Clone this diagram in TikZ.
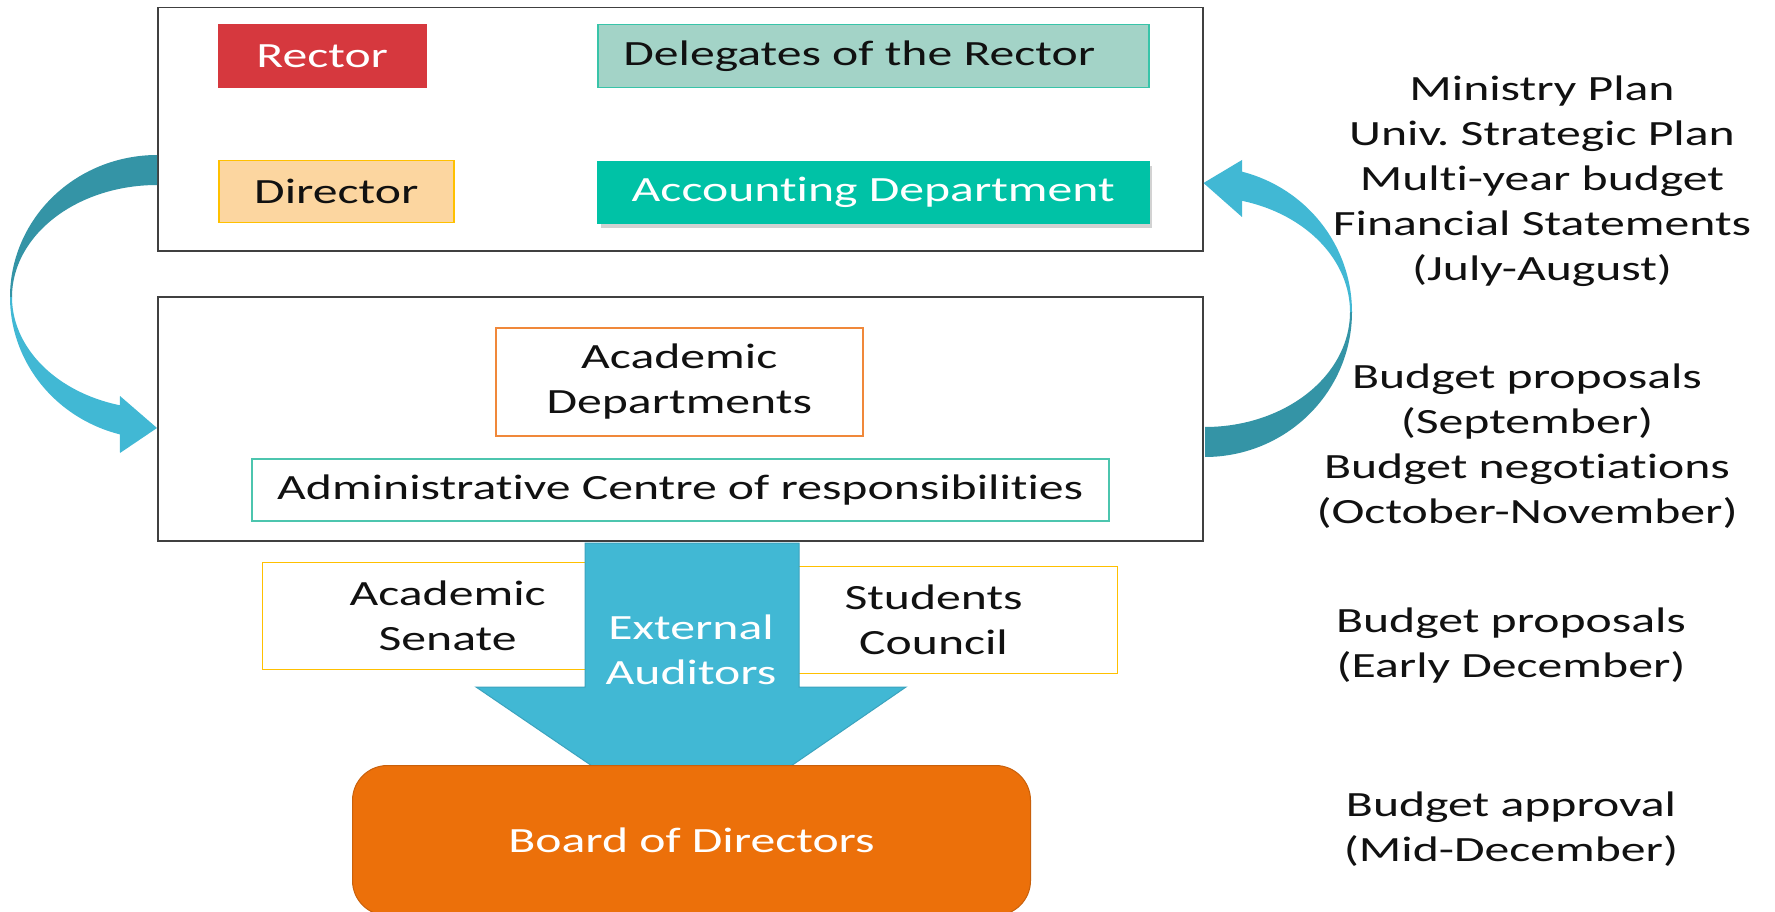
\documentclass[tikz,border=0pt]{standalone}
\usepackage{fontspec}
\setmainfont{Carlito}[FakeStretch=1.40, Ligatures=NoCommon]
\usetikzlibrary{shadows}
\definecolor{rectorred}{RGB}{214,56,62}
\definecolor{delefill}{RGB}{163,211,199}
\definecolor{deleline}{RGB}{56,196,169}
\definecolor{dirfill}{RGB}{252,214,160}
\definecolor{gold}{RGB}{255,192,0}
\definecolor{accfill}{RGB}{0,194,166}
\definecolor{deptline}{RGB}{240,136,58}
\definecolor{adminline}{RGB}{76,197,174}
\definecolor{arrowlight}{RGB}{65,184,212}
\definecolor{arrowdark}{RGB}{52,148,166}
\definecolor{arrowedge}{RGB}{59,163,190}
\definecolor{boardfill}{RGB}{236,112,10}
\definecolor{boardline}{RGB}{201,96,10}
\definecolor{frameline}{RGB}{64,64,64}
\definecolor{textblack}{RGB}{17,17,17}
\newcommand\diagfs{\fontsize{35.5}{45}\selectfont}
\frenchspacing
\begin{document}
\frenchspacing
\begin{tikzpicture}[x=1pt,y=-1pt,
  outerbox/.style={draw=frameline, line width=1.5pt, anchor=north west, inner sep=0pt},
  bx/.style={line width=1.5pt, anchor=north west, inner sep=0pt, font=\diagfs, align=center, text=textblack},
  txt/.style={font=\diagfs, align=center, inner sep=0pt, text=textblack}]
\useasboundingbox (0,0) rectangle (1775,912);
\fill[white] (0,0) rectangle (1775,912);

% frames
\node[outerbox, minimum width=1045pt, minimum height=243pt] (topbox) at (157,7) {};
\node[outerbox, minimum width=1045pt, minimum height=244pt] (midbox) at (157,296) {};

% top frame boxes
\node[bx, fill=rectorred, draw=rectorred, text=white, minimum width=207pt, minimum height=63pt] (rector) at (218,24) {Rector};
\node[bx, fill=delefill, draw=deleline, minimum width=551pt, minimum height=63pt] (dele) at (597,24) {Delegates of the Rector\kern28pt};
\node[bx, fill=dirfill, draw=gold, minimum width=235pt, minimum height=62pt] (director) at (218,160) {Director};
\node[bx, fill=accfill, draw=accfill, text=white, minimum width=551pt, minimum height=62pt,
  drop shadow={shadow xshift=3pt, shadow yshift=-4pt, opacity=0.35}] (acc) at (597,161) {Accounting Department};

% middle frame boxes
\node[bx, draw=deptline, minimum width=367pt, minimum height=108pt] (dept) at (495,327) {Academic\\Departments};
\node[bx, draw=adminline, minimum width=857pt, minimum height=62pt] (admin) at (251,458) {Administrative Centre of responsibilities};

% left curved arrow (top frame -> middle frame)
\fill[arrowdark] plot[domain=-90:-180, samples=60] ({157+147*cos(\x)},{297+142*sin(\x)})
  -- plot[domain=-180:-90, samples=60] ({157+145*cos(\x)},{297+112*sin(\x)}) -- cycle;
\fill[arrowlight] plot[domain=180:104.6, samples=60] ({157+147*cos(\x)},{297+142*sin(\x)})
  -- (120,453) -- (midbox.west |- 0,428) -- (120,396)
  -- plot[domain=104.8:180, samples=60] ({157+145*cos(\x)},{297+112*sin(\x)}) -- cycle;

% right curved arrow (middle frame -> top frame)
\fill[arrowdark] plot[domain=90:0, samples=60] ({1205+147*cos(\x)},{312+145*sin(\x)})
  -- plot[domain=0:90, samples=60] ({1205+145*cos(\x)},{312+115*sin(\x)}) -- cycle;
\fill[arrowlight] plot[domain=0:-75.4, samples=60] ({1205+147*cos(\x)},{312+145*sin(\x)})
  -- (1242,160) -- (topbox.east |- 0,183) -- (1242,217)
  -- plot[domain=-75.2:0, samples=60] ({1205+145*cos(\x)},{312+115*sin(\x)}) -- cycle;

% senate and students
\node[bx, draw=gold, line width=1.2pt, minimum width=370pt, minimum height=107pt] (senate) at (262,562) {Academic\\Senate};
\node[bx, draw=gold, line width=1.2pt, minimum width=368pt, minimum height=107pt] (students) at (749,566) {Students\\Council};

% big down arrow
\filldraw[fill=arrowlight, draw=arrowedge, line width=1pt]
  (585,543) -- (799,543) -- (799,687) -- (906,687) -- (692,834) -- (476,687) -- (585,687) -- cycle;
\node[txt, text=white] (auditors) at (691,650) {External\\Auditors};

% board
\node[bx, fill=boardfill, draw=boardline, line width=1pt, rounded corners=35pt, text=white,
  minimum width=678pt, minimum height=150pt] (board) at (352,765) {Board of Directors};

% right column texts
\node[txt] (plan) at (1542,181) {Ministry Plan\\Univ. Strategic Plan\\Multi-year budget\\Financial Statements\\(July-August)};
\node[txt] (propsep) at (1527,446) {Budget proposals\\(September)\\Budget negotiations\\(October-November)};
\node[txt] (propdec) at (1511,646) {Budget proposals\\(Early December)};
\node[txt] (approval) at (1511,829) {Budget approval\\(Mid-December)};
\end{tikzpicture}
\end{document}
